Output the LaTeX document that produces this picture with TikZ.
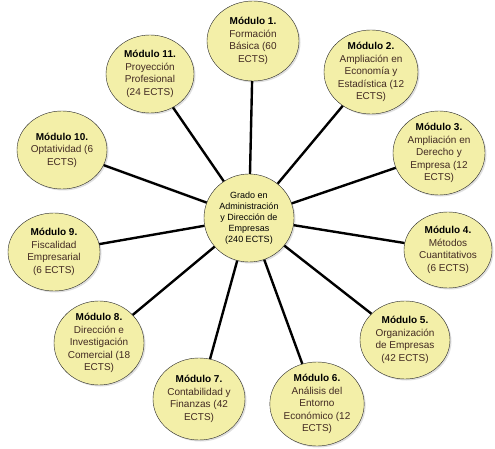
\documentclass[tikz,border=0pt]{standalone}
\usepackage{fontspec}
\setmainfont{Liberation Sans}
\usetikzlibrary{shapes.geometric,shadows}
\definecolor{modfill}{RGB}{243,239,168}
\definecolor{modtext}{RGB}{66,42,34}
\tikzset{modbox/.style={
    ellipse,
    draw=black!85,
    thin,
    fill=modfill,
    align=center,
    inner sep=0pt,
    text=modtext,
    font=\fontsize{10}{12.5}\selectfont,
    minimum width=90pt,
    minimum height=78pt,
    drop shadow={opacity=0.25,shadow xshift=1.5pt,shadow yshift=-1.5pt}
  },
  gradobox/.style={modbox,text=black,font=\fontsize{9}{11}\selectfont,
    minimum width=90pt,minimum height=88pt},
  spoke/.style={line width=2.4pt,black},
}
\newcommand{\modname}[1]{\textbf{\color{black}#1}}

\begin{document}
\begin{tikzpicture}[x=1pt,y=-1pt]
  \fill[white] (0,0) rectangle (495,449);
  \useasboundingbox (0,0) rectangle (495,449);
  \node [gradobox] (grado) at (249,218) {Grado en\\Administración\\y Dirección de\\Empresas\\(240 ECTS)};
  \node [modbox,minimum width=92pt,minimum height=80pt] (m1) at (253,41) {\modname{Módulo 1.}\\Formación\\Básica (60\\ECTS)};
  \node [modbox,minimum width=94pt,minimum height=76pt] (m2) at (371,72) {\modname{Módulo 2.}\\Ampliación en\\Economía y\\Estadística (12\\ECTS)};
  \node [modbox,minimum width=92pt,minimum height=80pt] (m3) at (439,153) {\modname{Módulo 3.}\\Ampliación en\\Derecho y\\Empresa (12\\ECTS)};
  \node [modbox,minimum width=88pt,minimum height=76pt] (m4) at (448,250) {\modname{Módulo 4.}\\Métodos\\Cuantitativos\\(6 ECTS)};
  \node [modbox] (m5) at (405,340) {\modname{Módulo 5.}\\Organización\\de Empresas\\(42 ECTS)};
  \node [modbox,minimum width=92pt,minimum height=80pt] (m6) at (317,404) {\modname{Módulo 6.}\\Análisis del\\Entorno\\Económico (12\\ECTS)};
  \node [modbox,minimum width=92pt,minimum height=82pt] (m7) at (199,399) {\modname{Módulo 7.}\\Contabilidad y\\Finanzas (42\\ECTS)};
  \node [modbox,minimum height=80pt] (m8) at (99,343) {\modname{Módulo 8.}\\Dirección e\\Investigación\\Comercial (18\\ECTS)};
  \node [modbox,minimum width=92pt] (m9) at (54,252) {\modname{Módulo 9.}\\Fiscalidad\\Empresarial\\(6 ECTS)};
  \node [modbox] (m10) at (62,150) {\modname{Módulo 10.}\\Optatividad (6\\ECTS)};
  \node [modbox,minimum width=88pt] (m11) at (150,74) {\modname{Módulo 11.}\\Proyección\\Profesional\\(24 ECTS)};
  % spokes from the centre
  \foreach \m in {m1,m2,m3,m4,m5,m6,m7,m8,m9,m10,m11}
    \draw[spoke] (grado) -- (\m);
\end{tikzpicture}
\end{document}
